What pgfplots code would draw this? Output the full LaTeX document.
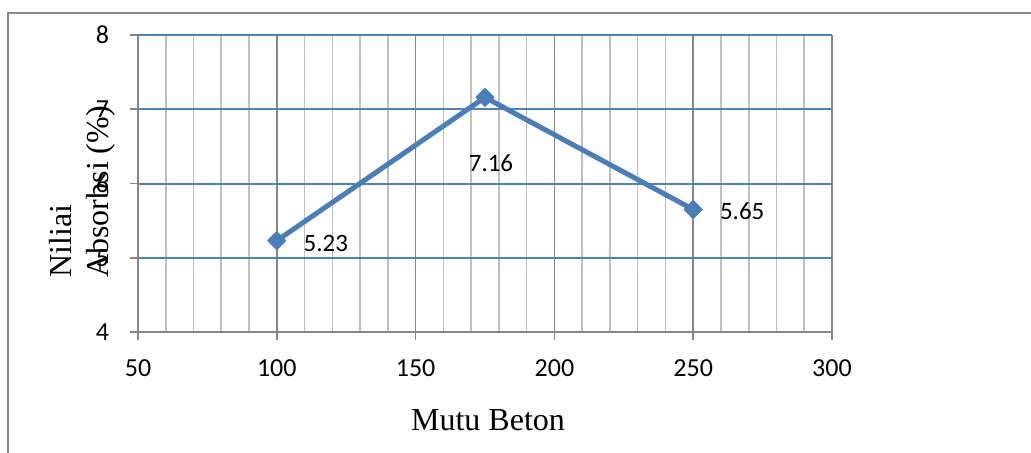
\documentclass[border=0pt]{standalone}
\usepackage{fontspec}
\setmainfont{Carlito}
\newfontfamily\serif{Liberation Serif}
\usepackage{pgfplots}
\pgfplotsset{compat=1.18}
\definecolor{serieblue}{HTML}{4A7EBB}
\definecolor{gridblue}{HTML}{4F81BD}
\definecolor{axisgray}{HTML}{868686}
\definecolor{minorgray}{HTML}{BFBFBF}
\definecolor{framegray}{HTML}{888888}

\begin{document}
\begin{tikzpicture}
\useasboundingbox (0bp,0bp) rectangle (515.5bp,226.5bp);
% chart area frame
\draw[framegray, line width=0.7bp] (4bp,-2bp) -- (4bp,220bp) -- (520bp,220bp);
\begin{axis}[
  at={(69bp,60.5bp)}, anchor=south west,
  scale only axis, width=347bp, height=148.5bp,
  xmin=50, xmax=300, ymin=4, ymax=8,
  xtick={50,100,...,300}, ytick={4,5,6,7,8},
  minor x tick num=4,
  xmajorgrids, xminorgrids, ymajorgrids,
  major x grid style={axisgray, line width=0.8bp},
  minor x grid style={minorgray, line width=0.8bp},
  major y grid style={gridblue, line width=1bp},
  axis x line*=bottom, axis y line*=left,
  axis line style={axisgray, line width=0.8bp, -},
  tick align=outside, major tick length=4bp, minor tick length=0pt,
  tick style={axisgray, line width=0.8bp},
  ticklabel style={font=\fontsize{13bp}{15bp}\selectfont, text=black},
  xticklabel style={yshift=-6.5bp},
  yticklabel style={xshift=-7bp},
  /pgf/number format/assume math mode=true,
  clip=false,
]
\addplot[serieblue, line width=2.5bp, line join=round,
  mark=square*, mark size=3.2bp,
  mark options={rotate=45, fill=serieblue, draw=serieblue, line width=0.5bp},
  point meta=explicit,
  nodes near coords={\pgfmathprintnumber[fixed,fixed zerofill,precision=2]{\pgfplotspointmeta}},
  visualization depends on={\thisrow{dx} \as \dx},
  visualization depends on={\thisrow{dy} \as \dy},
  every node near coord/.append style={anchor=center, xshift=\dx bp, yshift=\dy bp,
    text=black, font=\fontsize{12.5bp}{14bp}\selectfont},
] table[x=x, y=y, meta=y] {
x   y    dx   dy
100 5.23 24.5 -1.5
175 7.16 3    -33
250 5.65 24.5 -1
};
\end{axis}
% axis titles
\node[rotate=90, anchor=base west, inner sep=0pt, font=\serif\fontsize{16bp}{19bp}\selectfont]
  at (35.5bp,87.5bp) {Niliai};
\node[rotate=90, anchor=base west, inner sep=0pt, font=\serif\fontsize{16bp}{19bp}\selectfont]
  at (54bp,87.5bp) {Absorbsi (\%)};
\node[anchor=base, inner sep=0pt, font=\serif\fontsize{16bp}{19bp}\selectfont]
  at (244bp,11.5bp) {Mutu Beton};
\end{tikzpicture}
\end{document}
